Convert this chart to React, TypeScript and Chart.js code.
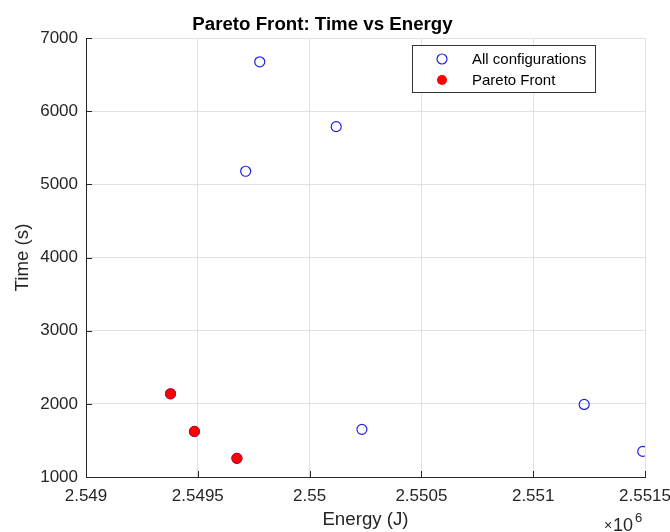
import React, { useEffect, useRef } from "react";
import { Chart, registerables } from "chart.js";

Chart.register(...registerables);

const allEnergy = [2549777, 2550119, 2549714, 2550234, 2551228, 2551490, 2549378, 2549485, 2549675];
const allTime = [6675, 5789, 5179, 1651, 1992, 1350, 2137, 1623, 1255];
const paretoEnergy = [2549378, 2549485, 2549675];
const paretoTime = [2137, 1623, 1255];
const xTickValues = [2549000, 2549500, 2550000, 2550500, 2551000, 2551500];
const yTickValues = [1000, 2000, 3000, 4000, 5000, 6000, 7000];
const seriesLabels = ["All configurations", "Pareto Front"];

const FONT = "'Liberation Sans', Arial, Helvetica, sans-serif";
const AXIS = "#262626";
const BLUE = "#1f1fe6";
const RED = "#ff0000";

const decorPlugin = {
  id: "matlabDecor",
  afterDraw(chart: any) {
    const { ctx, chartArea } = chart;
    const xs = chart.scales.x;
    const ys = chart.scales.y;
    ctx.save();
    // inward ticks
    ctx.strokeStyle = AXIS;
    ctx.lineWidth = 1;
    const tl = 6;
    ctx.beginPath();
    xTickValues.forEach((v) => {
      const px = Math.round(xs.getPixelForValue(v)) + 0.5;
      ctx.moveTo(px, chartArea.bottom);
      ctx.lineTo(px, chartArea.bottom - tl);
    });
    yTickValues.forEach((v) => {
      const py = Math.round(ys.getPixelForValue(v)) + 0.5;
      ctx.moveTo(chartArea.left, py);
      ctx.lineTo(chartArea.left + tl, py);
    });
    ctx.stroke();

    // x10^6 exponent label
    ctx.fillStyle = AXIS;
    ctx.textBaseline = "alphabetic";
    ctx.textAlign = "left";
    ctx.font = `14px ${FONT}`;
    ctx.fillText("\u00d7", 604, 530);
    ctx.font = `18px ${FONT}`;
    ctx.fillText("10", 613, 531);
    ctx.font = `13px ${FONT}`;
    ctx.fillText("6", 635, 522);

    // legend
    const lx = 412.5, ly = 45.5, lw = 183, lh = 47;
    ctx.fillStyle = "#ffffff";
    ctx.fillRect(lx, ly, lw, lh);
    ctx.strokeStyle = "#333333";
    ctx.lineWidth = 1;
    ctx.strokeRect(lx, ly, lw, lh);

    ctx.beginPath();
    ctx.arc(442, 59, 5, 0, Math.PI * 2);
    ctx.strokeStyle = BLUE;
    ctx.lineWidth = 1.2;
    ctx.stroke();

    ctx.beginPath();
    ctx.arc(442, 80, 5, 0, Math.PI * 2);
    ctx.fillStyle = RED;
    ctx.fill();

    ctx.fillStyle = "#000000";
    ctx.font = `15px ${FONT}`;
    ctx.textBaseline = "middle";
    ctx.fillText(seriesLabels[0], 472, 60);
    ctx.fillText(seriesLabels[1], 472, 80.5);
    ctx.restore();
  },
};

function fmtX(v: number) {
  return parseFloat((v / 1e6).toFixed(4)).toString();
}

export default function App() {
  const ref = useRef<HTMLCanvasElement | null>(null);
  useEffect(() => {
    if (!ref.current) return;
    const chart = new Chart(ref.current, {
      type: "scatter",
      data: {
        datasets: [
          {
            label: seriesLabels[0],
            data: allEnergy.map((e, i) => ({ x: e, y: allTime[i] })),
            pointRadius: 5,
            pointBorderWidth: 1.2,
            pointBorderColor: BLUE,
            pointBackgroundColor: "rgba(0,0,0,0)",
            order: 2,
          },
          {
            label: seriesLabels[1],
            data: paretoEnergy.map((e, i) => ({ x: e, y: paretoTime[i] })),
            pointRadius: 5,
            pointBorderWidth: 1,
            pointBorderColor: "#e00000",
            pointBackgroundColor: RED,
            order: 1,
          },
        ],
      },
      options: {
        responsive: false,
        animation: false,
        layout: { padding: { left: 0, right: 25, top: 0, bottom: 0 } },
        plugins: {
          legend: { display: false },
          tooltip: { enabled: false },
          title: {
            display: true,
            text: "Pareto Front: Time vs Energy",
            color: "#000000",
            font: { family: FONT, size: 18.7, weight: "bold" },
            padding: { top: 13.5, bottom: 2.1 },
          },
        },
        scales: {
          x: {
            type: "linear",
            min: 2549000,
            max: 2551500,
            afterBuildTicks: (s: any) => {
              s.ticks = xTickValues.map((v) => ({ value: v }));
            },
            afterFit: (s: any) => {
              s.height = 55;
              s.paddingLeft = 0;
              s.paddingRight = 0;
            },
            ticks: {
              color: AXIS,
              font: { family: FONT, size: 17 },
              padding: 9,
              maxRotation: 0,
              autoSkip: false,
              callback: (v: any) => fmtX(Number(v)),
            },
            grid: { color: "#e1e1e1", drawTicks: false, lineWidth: 1 },
            border: { color: AXIS, width: 1 },
            title: {
              display: true,
              text: "Energy (J)",
              color: AXIS,
              font: { family: FONT, size: 18.7 },
              padding: { top: 0, bottom: 1 },
            },
          },
          y: {
            type: "linear",
            min: 1000,
            max: 7000,
            afterBuildTicks: (s: any) => {
              s.ticks = yTickValues.map((v) => ({ value: v }));
            },
            afterFit: (s: any) => {
              s.width = 86;
              s.paddingTop = 0;
              s.paddingBottom = 0;
            },
            ticks: {
              color: AXIS,
              font: { family: FONT, size: 17 },
              padding: 8,
              autoSkip: false,
              callback: (v: any) => String(v),
            },
            grid: { color: "#e1e1e1", drawTicks: false, lineWidth: 1 },
            border: { color: AXIS, width: 1 },
            title: {
              display: true,
              text: "Time (s)",
              color: AXIS,
              font: { family: FONT, size: 18.7 },
              padding: { top: 12, bottom: 0 },
            },
          },
        },
      },
      plugins: [decorPlugin],
    } as any);
    return () => chart.destroy();
  }, []);
  return (
    <div style={{ position: "fixed", left: 0, top: 0, width: 670, height: 532, background: "#ffffff" }}>
      <canvas ref={ref} width={670} height={532} style={{ width: 670, height: 532, display: "block" }} />
    </div>
  );
}
